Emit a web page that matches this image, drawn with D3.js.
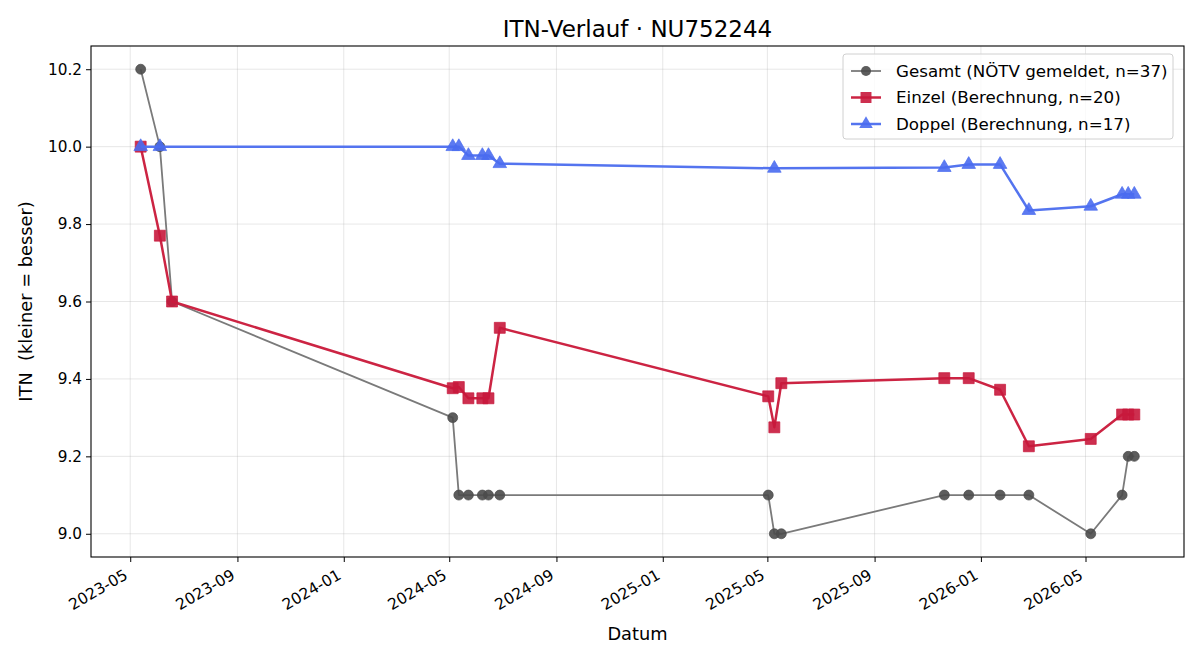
<!DOCTYPE html>
<html>
<head>
<meta charset="utf-8">
<script src="https://cdn.jsdelivr.net/npm/d3@7"></script>
<style>
  body { margin: 0; background: #fff; }
  svg { display: block; font-family: "DejaVu Sans", sans-serif; }
</style>
</head>
<body>
<script>
"use strict";

// Gesamt (NÖTV gemeldet)
var gesamtDates = ["2023-05-13", "2023-06-04", "2023-06-18", "2024-05-05", "2024-05-12",
  "2024-05-23", "2024-06-08", "2024-06-15", "2024-06-28", "2025-05-02", "2025-05-09",
  "2025-05-17", "2025-11-20", "2025-12-18", "2026-01-23", "2026-02-25", "2026-05-07",
  "2026-06-12", "2026-06-19", "2026-06-26"];
var gesamtValues = [10.2, 10.0, 9.6, 9.3, 9.1, 9.1, 9.1, 9.1, 9.1, 9.1, 9.0,
  9.0, 9.1, 9.1, 9.1, 9.1, 9.0, 9.1, 9.2, 9.2];

// Einzel (Berechnung)
var einzelDates = ["2023-05-13", "2023-06-04", "2023-06-18", "2024-05-05", "2024-05-12",
  "2024-05-23", "2024-06-08", "2024-06-15", "2024-06-28", "2025-05-02", "2025-05-09",
  "2025-05-17", "2025-11-20", "2025-12-18", "2026-01-23", "2026-02-25", "2026-05-07",
  "2026-06-12", "2026-06-19", "2026-06-26"];
var einzelValues = [10.0, 9.77, 9.6, 9.376, 9.379, 9.35, 9.35, 9.35, 9.532, 9.355, 9.275,
  9.389, 9.402, 9.402, 9.372, 9.226, 9.245, 9.308, 9.308, 9.308];

// Doppel (Berechnung)
var doppelDates = ["2023-05-13", "2023-06-04", "2024-05-05", "2024-05-12", "2024-05-23",
  "2024-06-08", "2024-06-15", "2024-06-28", "2025-05-09", "2025-11-20", "2025-12-18",
  "2026-01-23", "2026-02-25", "2026-05-07", "2026-06-12", "2026-06-19", "2026-06-26"];
var doppelValues = [10.0, 10.0, 10.0, 10.0, 9.977, 9.977, 9.977, 9.956, 9.944, 9.946, 9.954,
  9.954, 9.835, 9.846, 9.877, 9.877, 9.877];

var xTickLabels = ["2023-05", "2023-09", "2024-01", "2024-05", "2024-09", "2025-01",
  "2025-05", "2025-09", "2026-01", "2026-05"];
var yTickLabels = [9.0, 9.2, 9.4, 9.6, 9.8, 10.0, 10.2];

var legendLabels = ["Gesamt (NÖTV gemeldet, n=37)", "Einzel (Berechnung, n=20)",
  "Doppel (Berechnung, n=17)"];

function init() {
  var w = 1200;
  var h = 660;
  var margin = { top: 46, right: 16, bottom: 103, left: 91 };
  var iw = w - margin.left - margin.right;
  var ih = h - margin.top - margin.bottom;

  var parse = d3.timeParse("%Y-%m-%d");
  var parseMonth = d3.timeParse("%Y-%m");

  function pairs(dates, values) {
    return dates.map(function (d, i) {
      return { date: parse(d), value: values[i] };
    });
  }

  var series = [
    { name: legendLabels[0], data: pairs(gesamtDates, gesamtValues), line: "#7a7a7a", mark: "#4b4b4b", width: 1.8, shape: "circle" },
    { name: legendLabels[1], data: pairs(einzelDates, einzelValues), line: "#cc2443", mark: "#c8183c", width: 2.5, shape: "square" },
    { name: legendLabels[2], data: pairs(doppelDates, doppelValues), line: "#5474ef", mark: "#4a6cf0", width: 2.5, shape: "triangle" }
  ];

  // 5% padding around the data, like matplotlib
  var allPts = [].concat(series[0].data, series[1].data, series[2].data);
  var dMin = d3.min(allPts, function (d) { return d.date; });
  var dMax = d3.max(allPts, function (d) { return d.date; });
  var dPad = (dMax - dMin) * 0.05;
  var vMin = d3.min(allPts, function (d) { return d.value; });
  var vMax = d3.max(allPts, function (d) { return d.value; });
  var vPad = (vMax - vMin) * 0.05;

  var xScale = d3.scaleTime()
    .domain([new Date(+dMin - dPad), new Date(+dMax + dPad)])
    .range([0, iw]);

  var yScale = d3.scaleLinear()
    .domain([vMin - vPad, vMax + vPad])
    .range([ih, 0]);

  var svg = d3.select("body")
    .append("svg")
    .attr("width", w)
    .attr("height", h);

  var g = svg.append("g")
    .attr("transform", "translate(" + margin.left + "," + margin.top + ")");

  var xTicks = xTickLabels.map(function (d) { return parseMonth(d); });

  // grid
  g.append("g")
    .selectAll("line")
    .data(xTicks)
    .enter()
    .append("line")
    .attr("x1", function (d) { return xScale(d); })
    .attr("x2", function (d) { return xScale(d); })
    .attr("y1", 0)
    .attr("y2", ih)
    .attr("stroke", "#b0b0b0")
    .attr("stroke-opacity", 0.3)
    .attr("stroke-width", 1);

  g.append("g")
    .selectAll("line")
    .data(yTickLabels)
    .enter()
    .append("line")
    .attr("x1", 0)
    .attr("x2", iw)
    .attr("y1", function (d) { return yScale(d); })
    .attr("y2", function (d) { return yScale(d); })
    .attr("stroke", "#b0b0b0")
    .attr("stroke-opacity", 0.3)
    .attr("stroke-width", 1);

  // axes
  var xAxis = g.append("g")
    .attr("transform", "translate(0," + ih + ")")
    .call(d3.axisBottom(xScale)
      .tickValues(xTicks)
      .tickFormat(d3.timeFormat("%Y-%m"))
      .tickSize(5)
      .tickSizeOuter(0));

  xAxis.selectAll("text")
    .style("font-size", "15.5px")
    .style("font-family", "DejaVu Sans")
    .attr("fill", "#000")
    .attr("text-anchor", "end")
    .attr("y", 0)
    .attr("dy", 0)
    .attr("transform", "translate(-2,21) rotate(-30)");

  var yAxis = g.append("g")
    .call(d3.axisLeft(yScale)
      .tickValues(yTickLabels)
      .tickFormat(d3.format(".1f"))
      .tickSize(5)
      .tickPadding(4)
      .tickSizeOuter(0));

  yAxis.selectAll("text")
    .style("font-size", "15.3px")
    .style("font-family", "DejaVu Sans")
    .attr("fill", "#000");

  [xAxis, yAxis].forEach(function (a) {
    a.select(".domain").remove();
    a.selectAll(".tick line").attr("stroke", "#000").attr("stroke-width", 1);
  });

  g.append("rect")
    .attr("width", iw)
    .attr("height", ih)
    .attr("fill", "none")
    .attr("stroke", "#000")
    .attr("stroke-width", 1.1);

  // lines and markers
  var line = d3.line()
    .x(function (d) { return xScale(d.date); })
    .y(function (d) { return yScale(d.value); });

  var symbolFor = {
    circle: d3.symbol().type(d3.symbolCircle).size(78),
    square: d3.symbol().type(d3.symbolSquare).size(120),
    triangle: d3.symbol().type(d3.symbolTriangle).size(80)
  };

  series.forEach(function (s) {
    var sg = g.append("g");
    sg.append("path")
      .datum(s.data)
      .attr("d", line)
      .attr("fill", "none")
      .attr("stroke", s.line)
      .attr("stroke-width", s.width)
      .attr("stroke-linejoin", "round");

    sg.selectAll(".mark")
      .data(s.data)
      .enter()
      .append("path")
      .attr("class", "mark")
      .attr("d", symbolFor[s.shape])
      .attr("transform", function (d) {
        return "translate(" + xScale(d.date) + "," + yScale(d.value) + ")";
      })
      .attr("fill", s.mark)
      .attr("fill-opacity", 0.9)
      .attr("stroke", s.mark)
      .attr("stroke-opacity", 0.7)
      .attr("stroke-width", 1);
  });

  // legend
  var lg = svg.append("g")
    .attr("transform", "translate(843,54)");

  lg.append("rect")
    .attr("width", 330)
    .attr("height", 85)
    .attr("rx", 3)
    .attr("fill", "#fff")
    .attr("fill-opacity", 0.8)
    .attr("stroke", "#d0d0d0")
    .attr("stroke-width", 1);

  var rows = lg.selectAll(".row")
    .data(series)
    .enter()
    .append("g")
    .attr("class", "row")
    .attr("transform", function (d, i) {
      return "translate(0," + (17 + i * 26.5) + ")";
    });

  rows.append("line")
    .attr("x1", 8)
    .attr("x2", 38)
    .attr("stroke", function (d) { return d.line; })
    .attr("stroke-width", function (d) { return d.width; });

  rows.append("path")
    .attr("d", function (d) { return symbolFor[d.shape](); })
    .attr("transform", "translate(23,0)")
    .attr("fill", function (d) { return d.mark; })
    .attr("fill-opacity", 0.9);

  rows.append("text")
    .attr("x", 53)
    .attr("dy", "0.35em")
    .attr("font-size", "16.7px")
    .attr("fill", "#000")
    .text(function (d) { return d.name; });

  // titles
  svg.append("text")
    .attr("x", margin.left + iw / 2)
    .attr("y", 37)
    .attr("text-anchor", "middle")
    .attr("font-size", "23px")
    .attr("fill", "#000")
    .text("ITN-Verlauf · NU752244");

  svg.append("text")
    .attr("x", margin.left + iw / 2)
    .attr("y", 640)
    .attr("text-anchor", "middle")
    .attr("font-size", "17.8px")
    .attr("fill", "#000")
    .text("Datum");

  svg.append("text")
    .attr("transform", "translate(32," + (margin.top + ih / 2) + ") rotate(-90)")
    .attr("text-anchor", "middle")
    .attr("font-size", "17.8px")
    .attr("fill", "#000")
    .style("white-space", "pre")
    .text("ITN  (kleiner = besser)");
}

window.onload = init;
</script>
</body>
</html>
